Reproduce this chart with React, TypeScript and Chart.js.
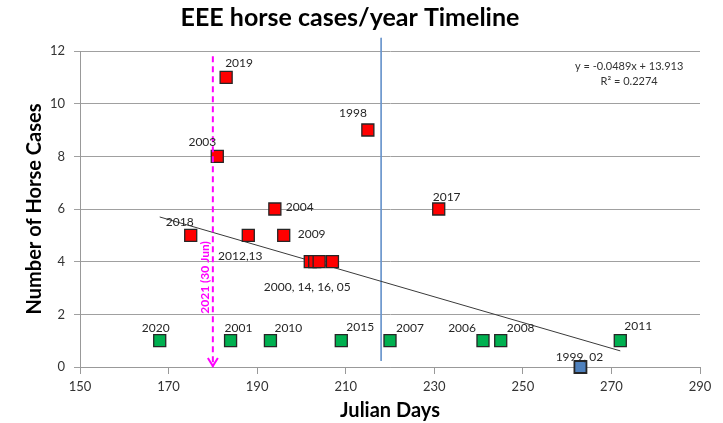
import { useEffect, useRef } from 'react';
import { Chart, registerables } from 'chart.js';
Chart.register(...registerables);

// ---- data ----
const redDays = [183, 181, 215, 194, 231, 175, 188, 196, 202, 203, 204, 207];
const redCases = [11, 8, 9, 6, 6, 5, 5, 5, 4, 4, 4, 4];
const redYears = ['2019', '2003', '1998', '2004', '2017', '2018', '2012,13', '2009', '2000, 14, 16, 05', '', '', ''];

const greenDays = [168, 184, 193, 209, 220, 241, 245, 272];
const greenCases = [1, 1, 1, 1, 1, 1, 1, 1];
const greenYears = ['2020', '2001', '2010', '2015', '2007', '2006', '2008', '2011'];

const blueDays = [263];
const blueCases = [0];
const blueYears = ['1999, 02'];

const trendSlope = -0.0489;
const trendIntercept = 13.913;
const rSquared = 0.2274;

const markerDay = 180;
const markerTop = 11.8;
const markerLabel = '2021 (30 Jun)';

const blueLineDay = 218;
const blueLineRange = [0.23, 12.5];

const xMin = 150, xMax = 290, xStep = 20;
const yMin = 0, yMax = 12, yStep = 2;

// ---- label placement (style): [dx, dy, align] in pixels ----
const redPlace: [number, number, CanvasTextAlign][] = [
  [-1, -14, 'left'], [-1, -14, 'right'], [-1, -17, 'right'], [11, -2, 'left'],
  [-6, -12, 'left'], [-11, -13, 'center'], [-8, 21, 'center'], [14, -1, 'left'],
  [-3, 25, 'center'], [0, 0, 'left'], [0, 0, 'left'], [0, 0, 'left'],
];
const greenPlace: [number, number, CanvasTextAlign][] = [
  [-4, -13, 'center'], [-6, -13, 'left'], [4, -13, 'left'], [5, -14, 'left'],
  [6, -13, 'left'], [-7, -13, 'right'], [6, -13, 'left'], [4, -15, 'left'],
];
const bluePlace: [number, number, CanvasTextAlign][] = [[-1, -10, 'center']];

const FONT = 'Lato, "Open Sans", sans-serif';

const pts = (xs: number[], ys: number[]) => xs.map((x, i) => ({ x, y: ys[i] }));

const annotPlugin = {
  id: 'annot',
  afterDatasetsDraw(chart: any) {
    const { ctx, scales } = chart;
    const xs = scales.x, ys = scales.y;
    ctx.save();
    // point labels
    ctx.font = `12px ${FONT}`;
    ctx.fillStyle = '#262626';
    ctx.textBaseline = 'middle';
    const groups: [number[], number[], string[], [number, number, CanvasTextAlign][]][] = [
      [redDays, redCases, redYears, redPlace],
      [greenDays, greenCases, greenYears, greenPlace],
      [blueDays, blueCases, blueYears, bluePlace],
    ];
    for (const [dx, cy, lab, pl] of groups) {
      dx.forEach((d, i) => {
        if (!lab[i]) return;
        const px = xs.getPixelForValue(d), py = ys.getPixelForValue(cy[i]);
        ctx.textAlign = pl[i][2];
        ctx.fillText(lab[i], px + pl[i][0], py + pl[i][1]);
      });
    }
    // arrow head of marker line
    const ax = xs.getPixelForValue(markerDay), ay = ys.getPixelForValue(0);
    ctx.strokeStyle = '#FF00FF';
    ctx.lineWidth = 2;
    ctx.setLineDash([]);
    ctx.beginPath();
    ctx.moveTo(ax - 5, ay - 9);
    ctx.lineTo(ax, ay - 1);
    ctx.lineTo(ax + 5, ay - 9);
    ctx.stroke();
    // marker label
    ctx.save();
    ctx.translate(ax - 8, ys.getPixelForValue(3.4));
    ctx.rotate(-Math.PI / 2);
    ctx.font = `bold 12px ${FONT}`;
    ctx.fillStyle = '#FF00FF';
    ctx.textAlign = 'center';
    ctx.fillText(markerLabel, 0, 0);
    ctx.restore();
    // equation
    ctx.font = `11px ${FONT}`;
    ctx.fillStyle = '#333';
    ctx.textAlign = 'center';
    const ex = xs.getPixelForValue(274), ey = ys.getPixelForValue(11.4);
    ctx.fillText(`y = ${trendSlope}x + ${trendIntercept}`, ex, ey);
    ctx.fillText(`R² = ${rSquared}`, ex, ey + 15);
    ctx.restore();
  },
};

export default function App() {
  const ref = useRef<HTMLCanvasElement>(null);
  useEffect(() => {
    const allX = [...redDays, ...greenDays, ...blueDays];
    const tMin = Math.min(...allX), tMax = Math.max(...allX);
    const sq = { pointStyle: 'rect', pointRadius: 8.5, pointHoverRadius: 8.5, borderColor: '#262626', borderWidth: 1.3, showLine: false, clip: false };
    const chart = new Chart(ref.current!, {
      type: 'scatter',
      data: {
        datasets: [
          { ...sq, data: pts(blueDays, blueCases), backgroundColor: '#4F81BD', borderWidth: 1.8, order: 1 } as any,
          { ...sq, data: pts(greenDays, greenCases), backgroundColor: '#00B050', order: 2 } as any,
          { ...sq, data: pts(redDays, redCases), backgroundColor: '#FF0000', order: 3 } as any,
          {
            data: [{ x: markerDay, y: markerTop }, { x: markerDay, y: 0 }], showLine: true, pointRadius: 0,
            borderColor: '#FF00FF', borderWidth: 2, borderDash: [6, 4], order: 0,
          } as any,
          {
            data: [{ x: tMin, y: trendSlope * tMin + trendIntercept }, { x: tMax, y: trendSlope * tMax + trendIntercept }],
            showLine: true, pointRadius: 0, borderColor: '#3a3a3a', borderWidth: 1, order: 4,
          } as any,
          {
            data: [{ x: blueLineDay, y: blueLineRange[1] }, { x: blueLineDay, y: blueLineRange[0] }],
            showLine: true, pointRadius: 0, borderColor: '#6A96CC', borderWidth: 1, order: 5, clip: false,
          } as any,
        ],
      },
      options: {
        animation: false,
        responsive: true,
        maintainAspectRatio: false,
        layout: { padding: { right: 23, left: 0, top: 0, bottom: 0 } },
        plugins: {
          legend: { display: false },
          tooltip: { enabled: false },
          title: {
            display: true,
            text: 'EEE horse cases/year Timeline',
            font: { family: FONT, size: 25, weight: 'bold' },
            color: '#000',
            padding: { top: 3, bottom: 18 },
          },
        },
        scales: {
          x: {
            type: 'linear', min: xMin, max: xMax,
            ticks: { stepSize: xStep, font: { family: FONT, size: 13 }, color: '#333', padding: 5 },
            grid: { drawOnChartArea: false, drawTicks: true, tickLength: 7, color: '#999' },
            border: { color: '#999' },
            title: { display: true, text: 'Julian Days', font: { family: FONT, size: 20, weight: 'bold' }, color: '#000', padding: { top: 0, bottom: 0 } },
            afterFit: (s: any) => { s.height = 56; },
          },
          y: {
            min: yMin, max: yMax,
            ticks: { stepSize: yStep, font: { family: FONT, size: 13 }, color: '#333', padding: 9 },
            grid: { color: '#a0a0a0', tickLength: 6 },
            border: { color: '#999' },
            title: { display: true, text: 'Number of Horse Cases', font: { family: FONT, size: 20, weight: 'bold' }, color: '#000', padding: { top: 23, bottom: 0 } },
            afterFit: (s: any) => { s.width = 80; },
          },
        },
      },
      plugins: [annotPlugin],
    } as any);
    return () => chart.destroy();
  }, []);
  return (
    <div style={{ position: 'absolute', left: 0, top: 0, width: 723, height: 423 }}>
      <canvas ref={ref} />
    </div>
  );
}
